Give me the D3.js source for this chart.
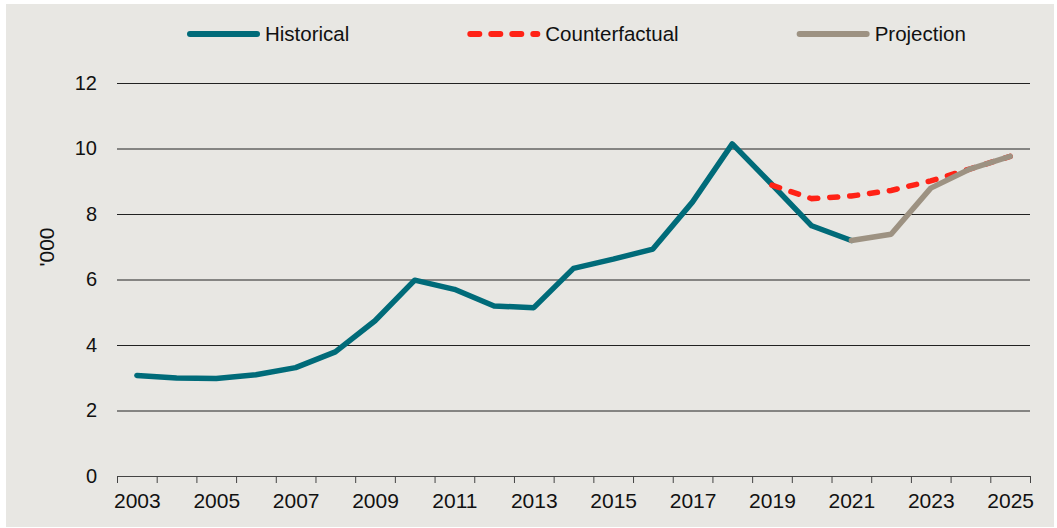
<!DOCTYPE html>
<html>
<head>
<meta charset="utf-8">
<script src="https://d3js.org/d3.v7.min.js"></script>
<style>
    body { margin: 0; background: #ffffff; }
    text { font-family: "Liberation Sans", Arial, sans-serif; fill: #111; }
</style>
</head>
<body>
<div id="chart"></div>
<script>
    // data, in thousands
    var histYears = [2003, 2004, 2005, 2006, 2007, 2008, 2009, 2010, 2011, 2012, 2013,
                     2014, 2015, 2016, 2017, 2018, 2019, 2020, 2021];
    var histValues = [3.07, 2.99, 2.98, 3.09, 3.31, 3.79, 4.74, 5.98, 5.70, 5.19, 5.14,
                      6.34, 6.62, 6.93, 8.37, 10.14, 8.90, 7.64, 7.19];
    var cfYears = [2019, 2020, 2021, 2022, 2023, 2024, 2025];
    var cfValues = [8.88, 8.47, 8.55, 8.72, 9.01, 9.38, 9.76];
    var projYears = [2021, 2022, 2023, 2024, 2025];
    var projValues = [7.19, 7.38, 8.79, 9.38, 9.76];
    var yTicks = [0, 2, 4, 6, 8, 10, 12];
    var xLabelYears = [2003, 2005, 2007, 2009, 2011, 2013, 2015, 2017, 2019, 2021, 2023, 2025];
    var seriesNames = ["Historical", "Counterfactual", "Projection"];

    var W = 1057, H = 528;
    var margin = { top: 83, right: 27, bottom: 52, left: 117 };
    var width = W - margin.left - margin.right,
        height = H - margin.top - margin.bottom;

    var colors = { Historical: "#006b79", Counterfactual: "#ff2216", Projection: "#9d9282" };

    var svg = d3.select("#chart").append("svg")
        .attr("width", W)
        .attr("height", H);

    // panel background
    svg.append("rect")
        .attr("x", 6).attr("y", 4)
        .attr("width", W - 9).attr("height", H - 5)
        .attr("fill", "#e8e7e3");

    var g = svg.append("g")
        .attr("transform", "translate(" + margin.left + "," + margin.top + ")");

    // one band per year, ticks on band edges
    var x = d3.scaleLinear().domain([2002.5, 2025.5]).range([0, width]);
    var y = d3.scaleLinear().domain([0, 12]).range([height, 0]);

    // gridlines
    var grid = g.append("g")
        .call(d3.axisLeft(y).tickValues(yTicks.filter(function (d) { return d > 0; })).tickSize(-width).tickFormat(""));
    grid.select(".domain").remove();
    grid.selectAll("line").attr("stroke", "#222").attr("stroke-width", 1);

    // y labels
    var yAxis = g.append("g")
        .call(d3.axisLeft(y).tickValues(yTicks).tickSize(0).tickPadding(20));
    yAxis.select(".domain").remove();
    yAxis.selectAll("text").style("font-size", "20px").attr("fill", "#111");

    // x axis: edge ticks
    var edges = d3.range(2002.5, 2026, 1);
    var xTickAxis = g.append("g")
        .attr("transform", "translate(0," + height + ")")
        .call(d3.axisBottom(x).tickValues(edges).tickSize(7).tickFormat(""));
    xTickAxis.select(".domain").attr("stroke", "#444");
    xTickAxis.selectAll("line").attr("stroke", "#444");

    var xLabAxis = g.append("g")
        .attr("transform", "translate(0," + height + ")")
        .call(d3.axisBottom(x).tickValues(xLabelYears).tickSize(0).tickPadding(17).tickFormat(d3.format("d")));
    xLabAxis.select(".domain").remove();
    xLabAxis.selectAll("text").style("font-size", "21px").attr("fill", "#111");

    // y title
    svg.append("text")
        .attr("transform", "translate(54,247) rotate(-90)")
        .attr("text-anchor", "middle")
        .style("font-size", "21px")
        .text("'000");

    var line = d3.line()
        .x(function (d) { return x(d[0]); })
        .y(function (d) { return y(d[1]); });

    function pairs(xs, vs) { return xs.map(function (d, i) { return [d, vs[i]]; }); }

    g.append("path")
        .datum(pairs(histYears, histValues))
        .attr("fill", "none")
        .attr("stroke", colors.Historical)
        .attr("stroke-width", 5.5)
        .attr("stroke-linejoin", "round")
        .attr("stroke-linecap", "round")
        .attr("d", line);

    g.append("path")
        .datum(pairs(cfYears, cfValues))
        .attr("fill", "none")
        .attr("stroke", colors.Counterfactual)
        .attr("stroke-width", 5.5)
        .attr("stroke-dasharray", "8,12")
        .attr("stroke-linecap", "round")
        .attr("d", line);

    g.append("path")
        .datum(pairs(projYears, projValues))
        .attr("fill", "none")
        .attr("stroke", colors.Projection)
        .attr("stroke-width", 5.5)
        .attr("stroke-linejoin", "round")
        .attr("stroke-linecap", "round")
        .attr("d", line);

    // legend
    var lx = 190, ly = 34;
    seriesNames.forEach(function (name) {
        var l = svg.append("line")
            .attr("x1", lx).attr("x2", lx + 67)
            .attr("y1", ly).attr("y2", ly)
            .attr("stroke", colors[name])
            .attr("stroke-width", 6)
            .attr("stroke-linecap", "round");
        if (name == "Counterfactual") l.attr("stroke-dasharray", "9,12");
        var t = svg.append("text")
            .attr("x", lx + 75).attr("y", ly + 7)
            .style("font-size", "20.5px")
            .text(name);
        lx = lx + 75 + t.node().getComputedTextLength() + 121;
    });
</script>
</body>
</html>
